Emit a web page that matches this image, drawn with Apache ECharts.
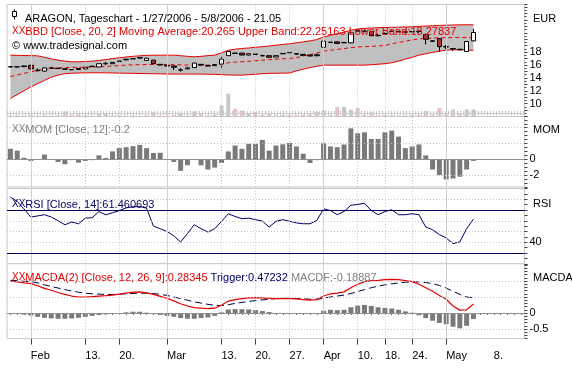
<!DOCTYPE html>
<html><head><meta charset="utf-8">
<script src="https://cdn.jsdelivr.net/npm/echarts@6/dist/echarts.min.js"></script>
<style>html,body{margin:0;padding:0;background:#fff}#c{width:572px;height:369px}</style>
</head><body><div id="c"></div>
<script>
// ---------- data ----------
const dates = ['1/27','1/30','1/31',
 '2/1','2/2','2/3','2/6','2/7','2/8','2/9','2/10','2/13','2/14','2/15','2/16','2/17','2/20','2/21','2/22','2/23','2/24','2/27','2/28',
 '3/1','3/2','3/3','3/6','3/7','3/8','3/9','3/10','3/13','3/14','3/15','3/16','3/17','3/20','3/21','3/22','3/23','3/24','3/27','3/28','3/29','3/30','3/31',
 '4/3','4/4','4/5','4/6','4/7','4/10','4/11','4/12','4/13','4/18','4/19','4/20','4/21','4/24','4/25','4/26','4/27','4/28',
 '5/2','5/3','5/4','5/5','5/8',
 '5/9','5/10','5/11','5/12','5/15','5/16','5/17'];
// [open, close, low, high]
const candles = [
 [15.75,15.7,15.6,15.8],[15.7,15.72,15.65,15.8],[15.75,15.85,15.7,15.9],[15.95,15.4,15.35,16.0],[15.1,15.2,15.05,15.45],
 [15.05,15.55,15.0,15.6],[15.5,15.55,15.4,15.7],[15.5,15.45,15.4,15.55],[15.4,15.35,15.3,15.45],[15.3,15.25,15.2,15.35],
 [15.45,15.3,15.25,15.5],[15.4,15.65,15.35,15.7],[15.75,15.8,15.7,15.9],[15.7,16.2,15.65,16.25],[16.2,16.25,16.0,16.5],
 [16.2,16.4,16.15,16.45],[16.55,16.6,16.5,16.7],[16.8,16.9,16.75,16.95],[16.95,17.0,16.9,17.05],[17.15,17.1,16.95,17.2],
 [16.7,17.05,16.65,17.1],[16.75,16.2,16.15,16.8],[16.1,16.0,15.95,16.15],[15.95,15.85,15.8,16.0],[15.85,15.65,15.2,15.9],
 [15.2,15.25,15.0,15.5],[15.4,15.55,15.35,15.6],[15.6,16.3,15.55,16.35],[16.1,16.0,15.95,16.15],[15.9,15.85,15.8,15.95],
 [15.9,16.05,15.85,16.1],[16.15,16.9,15.5,17.3],[17.45,18.1,17.4,18.2],[17.85,17.8,17.7,17.9],[17.85,17.55,17.5,17.9],
 [17.55,17.75,17.5,17.8],[17.7,17.65,17.55,17.75],[17.45,17.45,17.3,17.6],[17.45,17.2,17.15,17.5],[17.25,17.45,17.2,17.5],
 [17.75,17.8,17.7,17.85],[17.95,17.9,17.85,18.0],[17.75,17.7,17.6,17.8],[17.65,17.5,17.45,17.7],[17.55,17.4,17.35,17.6],
 [17.45,17.6,17.35,17.75],[18.75,19.7,18.7,19.8],[19.55,19.5,19.4,19.6],[19.6,19.35,19.3,19.65],[19.45,19.5,19.4,19.6],
 [19.45,21.0,19.4,21.05],[21.3,21.25,21.1,21.4],[21.2,21.3,21.15,21.4],[21.2,20.55,20.5,21.3],[20.6,20.55,20.45,20.9],
 [20.85,20.9,20.8,21.05],[21.2,21.25,21.15,21.35],[21.2,21.15,21.1,21.3],[21.1,21.15,21.05,21.2],[21.15,21.2,21.1,21.3],
 [21.25,21.2,21.0,21.35],[20.75,20.0,19.2,20.8],[19.75,19.7,19.6,19.8],[20.1,18.85,18.05,20.15],[18.8,18.85,18.5,19.1],
 [18.55,18.5,18.2,18.6],[18.35,18.45,18.3,18.5],[18.1,19.65,18.05,19.7],[19.75,21.05,19.7,21.6]
];
const bbUpper = [17.53,17.5,17.48,17.45,17.43,17.2,16.95,16.76,16.6,16.5,16.5,16.55,16.6,16.7,16.85,17.0,17.12,17.25,17.35,17.43,
 17.5,17.52,17.53,17.53,17.53,17.45,17.35,17.28,17.35,17.45,17.53,17.9,18.3,18.45,18.57,18.65,18.75,18.85,18.95,19.08,
 19.2,19.3,19.45,19.6,19.75,19.95,20.37,20.6,20.85,21.1,21.4,21.6,21.7,21.75,21.8,21.83,21.86,21.88,21.9,21.95,
 22.0,22.05,22.1,22.15,22.19,22.22,22.24,22.25,22.25];
const bbMiddle = [14.2,14.45,14.7,14.95,15.15,15.3,15.45,15.55,15.6,15.62,15.63,15.65,15.68,15.72,15.78,15.85,15.92,15.98,16.02,16.05,
 16.08,16.08,16.07,16.06,16.06,16.02,15.98,15.95,15.97,16.0,16.04,16.15,16.35,16.45,16.5,16.58,16.66,16.75,16.82,16.9,
 16.97,17.02,17.15,17.4,17.62,17.85,18.17,18.3,18.42,18.55,18.7,18.8,18.85,18.9,18.96,19.02,19.3,19.5,19.7,19.9,
 20.05,20.12,20.18,20.22,20.25,20.27,20.28,20.27,20.265];
const bbLower = [10.82,11.4,12.0,12.6,13.1,13.6,14.1,14.43,14.65,14.72,14.76,14.78,14.79,14.79,14.78,14.76,14.74,14.72,14.7,14.68,
 14.66,14.64,14.62,14.6,14.59,14.59,14.59,14.59,14.59,14.57,14.55,14.5,14.45,14.43,14.43,14.5,14.57,14.65,14.7,14.72,
 14.74,14.75,15.1,15.35,15.6,15.8,15.98,15.98,15.98,15.98,15.98,15.98,15.98,16.05,16.12,16.2,16.35,16.6,16.9,17.2,
 17.53,17.75,17.95,18.15,18.31,18.35,18.38,18.33,18.28];
const volume = [6,6,5,8,5,6,5,6,25,8,10,6,5,17,17,6,5,5,6,5,6,22,6,5,8,14,6,25,14,6,8,55,113,38,30,17,22,8,17,6,
 8,8,6,8,10,22,30,8,47,47,33,42,8,22,6,8,6,6,6,8,8,27,8,42,10,35,10,35,35];
const mom = [1.33,1.1,0.2,-0.2,-0.05,0.6,0.05,-0.33,-0.62,-0.1,-0.42,-0.2,-0.1,0.5,0.17,1.0,1.42,1.54,1.67,1.83,
 1.42,0.8,0.83,0.05,-0.33,-1.46,-0.75,0.0,-0.75,-1.29,-1.04,-0.46,1.0,1.75,1.33,1.96,1.96,2.46,1.1,1.75,
 1.9,2.08,1.63,0.71,-0.46,-0.1,2.08,1.63,1.54,1.88,3.92,3.29,3.42,2.58,2.58,3.42,3.63,2.88,1.42,1.63,
 1.88,0.5,-1.29,-2.0,-2.54,-2.42,-2.2,-1.29,-0.2];
const rsi = [82,78,71,63.4,64.5,65.6,63.5,60,56.3,58.8,57.2,62.4,62.8,68.6,65.5,67.4,69.5,72,73,73.2,
 71.7,55,52.6,50,46,40.3,48,56.3,52.6,49.5,52.6,59.4,66.5,64,61.9,62.4,61,59.7,54.1,59.4,
 61,59.5,58,57.2,57.2,60.3,71.1,69.5,65.6,68.6,74.5,75.1,76.3,69.5,65.6,68.6,70.2,65.6,65.6,66.5,
 65.6,54.1,51.7,47.1,44,38.8,40.3,52.6,61.46];
const macd = [1.0,0.97,0.94,0.92,0.85,0.77,0.71,0.64,0.58,0.53,0.5,0.5,0.51,0.53,0.54,0.56,0.59,0.62,0.65,0.66,
 0.63,0.58,0.52,0.46,0.38,0.29,0.22,0.17,0.15,0.135,0.15,0.25,0.37,0.42,0.45,0.47,0.48,0.47,0.46,0.45,
 0.45,0.45,0.44,0.42,0.4,0.42,0.53,0.6,0.62,0.66,0.79,0.9,0.98,1.01,1.02,1.04,1.05,1.04,1.01,0.98,
 0.9,0.79,0.68,0.55,0.43,0.22,0.09,0.1,0.283];
const trigger = [1.02,1.01,0.99,0.98,0.94,0.88,0.83,0.78,0.73,0.69,0.65,0.62,0.6,0.59,0.58,0.58,0.59,0.6,0.61,0.62,
 0.62,0.61,0.58,0.55,0.5,0.45,0.4,0.35,0.31,0.27,0.24,0.23,0.26,0.3,0.33,0.36,0.39,0.41,0.43,0.45,
 0.46,0.46,0.45,0.44,0.43,0.43,0.46,0.5,0.53,0.56,0.61,0.67,0.73,0.79,0.84,0.88,0.91,0.94,0.96,0.97,
 0.97,0.95,0.92,0.86,0.78,0.68,0.58,0.5,0.472];
const macdf = [-0.02,-0.03,-0.05,-0.08,-0.12,-0.15,-0.17,-0.18,-0.18,-0.17,-0.15,-0.12,-0.09,-0.06,-0.04,-0.02,0.0,0.02,0.04,0.04,
 0.01,-0.03,-0.06,-0.09,-0.12,-0.16,-0.18,-0.18,-0.16,-0.14,-0.09,0.02,0.11,0.12,0.12,0.11,0.09,0.06,0.03,0.0,
 -0.01,-0.01,-0.01,-0.02,-0.03,-0.01,0.07,0.1,0.09,0.1,0.18,0.23,0.25,0.22,0.18,0.16,0.14,0.1,0.05,0.01,
 -0.07,-0.16,-0.24,-0.31,-0.35,-0.43,-0.48,-0.4,-0.19];
const xTickLabels = {3:'Feb',11:'13.',16:'20.',23:'Mar',31:'13.',36:'20.',41:'27.',46:'Apr',51:'10.',55:'18.',59:'24.',64:'May',71:'8.'};
const monthIdx = [3,23,46,64];
const weekIdx = [11,16,31,36,41,51,55,59];
const priceLabels = [10,12,14,16,18];
const momLabels = [0,-2];
const rsiLabels = [40];
const macdLabels = [0,-0.5];

// ---------- layout ----------
const FONT = 'Liberation Sans';
const L = 7, R = 47.5;
const grids = [
  {top:4.5, height:112},
  {top:116.5, height:70.5},
  {top:188.5, height:75.25},
  {top:263.75, height:74.85}
];
const dotted = {color:'#c4c4c4', type:[1,2], width:1};
const solidGrey = {color:'#d0d0d0', type:'solid', width:1};
function vLines(){
  return monthIdx.map(i=>({xAxis:i, lineStyle:solidGrey}))
    .concat(weekIdx.map(i=>({xAxis:i, lineStyle:dotted})));
}
function gridMark(hLines){
  return {silent:true, symbol:'none', label:{show:false}, animation:false,
    data: vLines().concat(hLines)};
}
function yLabelFmt(list){
  return v => { for (const t of list) if (Math.abs(v-t)<1e-6) return String(t); return ''; };
}
const fill = (arr)=>arr.concat(Array(dates.length-arr.length).fill('-'));
const bandDiff = bbUpper.map((u,i)=>+(u-bbLower[i]).toFixed(3));

const chart = echarts.init(document.getElementById('c'), null, {renderer:'canvas'});
const xBase = gi => ({type:'category', gridIndex:gi, position:'bottom', data:dates, boundaryGap:true,
  axisLine:{show:false}, axisTick:{show:false}, axisLabel:{show:false}, splitLine:{show:false}});
const yBase = (gi,min,max,interval,labels,minorSplit) => ({type:'value', gridIndex:gi, position:'right', min, max, interval,
  axisLine:{show:false},
  axisTick:{show:true, length:3, lineStyle:{color:'#404040'}},
  minorTick:{show:!!minorSplit, splitNumber:minorSplit||5, length:2, lineStyle:{color:'#404040'}},
  axisLabel:{show:true, margin:5, color:'#000', fontSize:11, fontFamily:FONT, formatter:yLabelFmt(labels), showMinLabel:true, showMaxLabel:true},
  splitLine:{show:false}});

const option = {
  animation:false,
  backgroundColor:'#fff',
  textStyle:{fontFamily:FONT},
  grid: grids.map(g=>({left:L, right:R, top:g.top, height:g.height, show:true, borderColor:'#c8c8c8', borderWidth:1, backgroundColor:'#fff'})),
  xAxis:[xBase(0), xBase(1), xBase(2),
    Object.assign(xBase(3), {axisTick:{show:true, alignWithLabel:true, interval:0, length:2, lineStyle:{color:'#606060'}}}),
    Object.assign(xBase(3), {position:'bottom', offset:0, axisTick:{show:true, alignWithLabel:true, length:6, interval:(i)=>xTickLabels[i]!==undefined && i<69, lineStyle:{color:'#404040'}},
      axisLabel:{show:true, interval:(i)=>xTickLabels[i]!==undefined, formatter:(v,i)=>xTickLabels[i]||'', align:'left', margin:12, color:'#000', fontSize:11, fontFamily:FONT}})
  ],
  yAxis:[
    yBase(0, 8, 25.4, 1, priceLabels, 2),
    {type:'value', gridIndex:0, min:0, max:555, show:false, splitLine:{show:false}},
    yBase(1, -3.5, 5.42, 0.5, momLabels, 0),
    yBase(2, 20, 90, 5, rsiLabels, 0),
    yBase(3, -0.8, 1.539, 0.1, macdLabels, 0)
  ],
  title:[
    {text:'ARAGON, Tageschart - 1/27/2006 - 5/8/2006 - 21.05', left:20, top:8, textStyle:{fontSize:11, fontWeight:'normal', color:'#000', fontFamily:FONT}},
    {text:'{x|XX}BBD [Close, 20, 2] Moving Average:20.265 Upper Band:22.25163 Lower Band:18.27837', left:7, top:21,
      textStyle:{fontSize:11, fontWeight:'normal', color:'#e00000', fontFamily:FONT, rich:{x:{fontSize:10, color:'#e00000', fontFamily:FONT}}}},
    {text:'© www.tradesignal.com', left:7, top:35, textStyle:{fontSize:11, fontWeight:'normal', color:'#000', fontFamily:FONT}},
    {text:'{x|XX}MOM [Close, 12]:-0.2', left:7, top:119, textStyle:{fontSize:11, fontWeight:'normal', color:'#808080', fontFamily:FONT, rich:{x:{fontSize:10,color:'#808080',fontFamily:FONT}}}},
    {text:'{x|XX}RSI [Close, 14]:61.460693', left:7, top:194, textStyle:{fontSize:11, fontWeight:'normal', color:'#000060', fontFamily:FONT, rich:{x:{fontSize:10,color:'#000060',fontFamily:FONT}}}},
    {text:'{x|XX}{r|MACDA(2) [Close, 12, 26, 9]:0.28345} {n|Trigger:0.47232} {g|MACDF:-0.18887}', left:7, top:267,
      textStyle:{fontSize:11, fontWeight:'normal', fontFamily:FONT, rich:{x:{color:'#e00000',fontSize:10,fontFamily:FONT}, r:{color:'#e00000',fontSize:11,fontFamily:FONT}, n:{color:'#000060',fontSize:11,fontFamily:FONT}, g:{color:'#808080',fontSize:11,fontFamily:FONT}}}},
    {text:'EUR', left:528, top:8, textStyle:{fontSize:11, fontWeight:'normal', color:'#000', fontFamily:FONT}},
    {text:'MOM', left:528, top:119, textStyle:{fontSize:11, fontWeight:'normal', color:'#000', fontFamily:FONT}},
    {text:'RSI', left:528, top:193, textStyle:{fontSize:11, fontWeight:'normal', color:'#000', fontFamily:FONT}},
    {text:'MACDA', left:528, top:267, textStyle:{fontSize:11, fontWeight:'normal', color:'#000', fontFamily:FONT}}
  ],
  graphic:[
    {type:'line', shape:{x1:14.5,y1:9.5,x2:14.5,y2:19.5}, style:{stroke:'#000',lineWidth:1}},
    {type:'rect', shape:{x:12.5,y:11.5,width:4,height:5}, style:{fill:'#fff',stroke:'#000',lineWidth:1}}
  ],
  series:[
    {type:'bar', name:'Volume', xAxisIndex:0, yAxisIndex:1, data:fill(volume), barWidth:4, z:1,
      itemStyle:{color:p=>{const c=candles[p.dataIndex]; return (c && c[1]<c[0])?'#e4c4cc':'#c8c8c8';}},
      markLine:gridMark([10,12,16,18,20,22,24].map(v=>({yAxis:v, lineStyle:dotted})).concat([{yAxis:14, lineStyle:solidGrey}]))},
    {type:'line', name:'bbBase', xAxisIndex:0, yAxisIndex:0, data:fill(bbLower), stack:'bb', symbol:'none', lineStyle:{opacity:0}, z:2},
    {type:'line', name:'bbFill', xAxisIndex:0, yAxisIndex:0, data:fill(bandDiff), stack:'bb', symbol:'none', lineStyle:{opacity:0}, areaStyle:{color:'#c0c0c0', opacity:1}, z:2},
    {type:'line', name:'Upper', xAxisIndex:0, yAxisIndex:0, data:fill(bbUpper), symbol:'none', lineStyle:{color:'#e80000', width:1}, z:3},
    {type:'line', name:'Lower', xAxisIndex:0, yAxisIndex:0, data:fill(bbLower), symbol:'none', lineStyle:{color:'#e80000', width:1}, z:3},
    {type:'line', name:'MA', xAxisIndex:0, yAxisIndex:0, data:fill(bbMiddle), symbol:'none', lineStyle:{color:'#e80000', width:1, type:[4,3]}, z:3},
    {type:'candlestick', name:'ARAGON', xAxisIndex:0, yAxisIndex:0, data:fill(candles), barWidth:5, z:4,
      itemStyle:{color:'#ffffff', color0:'#a83232', borderColor:'#000', borderColor0:'#000', borderWidth:1}},
    {type:'bar', name:'MOM', xAxisIndex:1, yAxisIndex:2, data:fill(mom), barWidth:5, itemStyle:{color:'#7a7a7a'},
      markLine:gridMark([{yAxis:2, lineStyle:dotted},{yAxis:4, lineStyle:dotted},{yAxis:-2, lineStyle:dotted},{yAxis:0, lineStyle:{color:'#909090', type:'solid', width:1}}])},
    {type:'line', name:'RSI', xAxisIndex:2, yAxisIndex:3, data:fill(rsi), symbol:'none', lineStyle:{color:'#000060', width:1},
      markLine:gridMark([{yAxis:40,lineStyle:dotted},{yAxis:50,lineStyle:dotted},{yAxis:60,lineStyle:dotted},{yAxis:80,lineStyle:dotted},
        {yAxis:30, lineStyle:{color:'#000060', type:'solid', width:1}},{yAxis:70, lineStyle:{color:'#000060', type:'solid', width:1}}])},
    {type:'bar', name:'MACDF', xAxisIndex:3, yAxisIndex:4, data:fill(macdf), barWidth:5, itemStyle:{color:'#7a7a7a'},
      markLine:gridMark([{yAxis:0.5,lineStyle:dotted},{yAxis:1.0,lineStyle:dotted},{yAxis:-0.5,lineStyle:dotted},{yAxis:0, lineStyle:{color:'#909090', type:'solid', width:1}}])},
    {type:'line', name:'Trigger', xAxisIndex:3, yAxisIndex:4, data:fill(trigger), symbol:'none', lineStyle:{color:'#000040', width:1, type:[7,4]}},
    {type:'line', name:'MACDA', xAxisIndex:3, yAxisIndex:4, data:fill(macd), symbol:'none', lineStyle:{color:'#e80000', width:1.2}}
  ]
};
chart.setOption(option);
</script></body></html>
